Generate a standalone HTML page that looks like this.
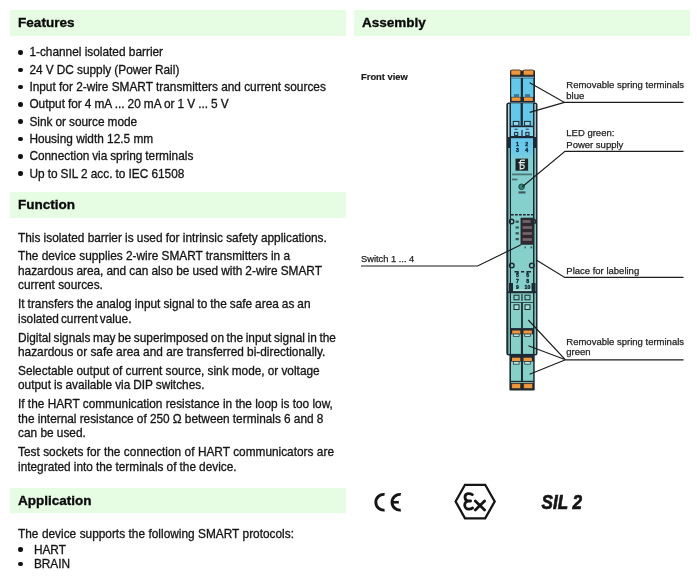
<!DOCTYPE html>
<html><head><meta charset="utf-8"><style>
html,body{margin:0;padding:0;background:#fff;width:697px;height:576px;overflow:hidden;position:relative}
div{position:absolute;white-space:nowrap;line-height:20px}
.band{background:#e6fde4}
.h{font-family:"Liberation Sans",sans-serif;font-weight:bold;font-size:13.5px;color:#0a0a0a;-webkit-text-stroke:0.35px #0a0a0a}
.b{font-family:"Liberation Sans",sans-serif;font-size:11.85px;color:#151515;-webkit-text-stroke:0.3px #151515}
.l{font-family:"Liberation Sans",sans-serif;font-size:9.5px;color:#1e1e1e;-webkit-text-stroke:0.25px #1e1e1e}
.fv{font-family:"Liberation Sans",sans-serif;font-weight:bold;font-size:9.4px;color:#1a1a1a;-webkit-text-stroke:0.2px #1a1a1a}
.dot{width:4.5px;height:4.5px;border-radius:50%;background:#111}
svg{position:absolute;left:0;top:0}
#wrap{position:absolute;left:0;top:0;width:697px;height:576px;will-change:transform}
</style></head><body><div id="wrap">
<div class="band" style="left:10px;top:10.4px;width:336px;height:26.1px"></div>
<div class="band" style="left:10px;top:192px;width:336px;height:25.5px"></div>
<div class="band" style="left:10px;top:488px;width:336px;height:25px"></div>
<div class="band" style="left:354.3px;top:10.4px;width:336.2px;height:26.1px"></div>
<div class="h" style="left:18.00px;top:12.52px;letter-spacing:0.05px">Features</div>
<div class="h" style="left:18.00px;top:194.62px;">Function</div>
<div class="h" style="left:18.00px;top:490.52px;">Application</div>
<div class="h" style="left:362.00px;top:12.52px;">Assembly</div>
<div class="dot" style="left:18px;top:50.20px"></div>
<div class="b" style="left:29.40px;top:42.49px;">1-channel isolated barrier</div>
<div class="dot" style="left:18px;top:67.50px"></div>
<div class="b" style="left:29.40px;top:59.79px;word-spacing:-0.160px">24 V DC supply (Power Rail)</div>
<div class="dot" style="left:18px;top:84.80px"></div>
<div class="b" style="left:29.40px;top:77.09px;">Input for 2-wire SMART transmitters and current sources</div>
<div class="dot" style="left:18px;top:102.10px"></div>
<div class="b" style="left:29.40px;top:94.39px;word-spacing:-0.242px">Output for 4 mA ... 20 mA or 1 V ... 5 V</div>
<div class="dot" style="left:18px;top:119.40px"></div>
<div class="b" style="left:29.40px;top:111.69px;word-spacing:-0.267px">Sink or source mode</div>
<div class="dot" style="left:18px;top:136.70px"></div>
<div class="b" style="left:29.40px;top:128.99px;">Housing width 12.5 mm</div>
<div class="dot" style="left:18px;top:154.00px"></div>
<div class="b" style="left:29.40px;top:146.29px;word-spacing:-0.433px">Connection via spring terminals</div>
<div class="dot" style="left:18px;top:171.30px"></div>
<div class="b" style="left:29.40px;top:163.59px;word-spacing:-0.186px">Up to SIL 2 acc. to IEC 61508</div>
<div class="b" style="left:18.00px;top:227.79px;word-spacing:-0.075px">This isolated barrier is used for intrinsic safety applications.</div>
<div class="b" style="left:18.00px;top:245.89px;">The device supplies 2-wire SMART transmitters in a</div>
<div class="b" style="left:18.00px;top:260.59px;word-spacing:-0.222px">hazardous area, and can also be used with 2-wire SMART</div>
<div class="b" style="left:18.00px;top:275.49px;">current sources.</div>
<div class="b" style="left:18.00px;top:293.89px;word-spacing:-0.282px">It transfers the analog input signal to the safe area as an</div>
<div class="b" style="left:18.00px;top:308.79px;word-spacing:-1.200px">isolated current value.</div>
<div class="b" style="left:18.00px;top:327.59px;word-spacing:-0.670px">Digital signals may be superimposed on the input signal in the</div>
<div class="b" style="left:18.00px;top:341.69px;">hazardous or safe area and are transferred bi-directionally.</div>
<div class="b" style="left:18.00px;top:360.59px;word-spacing:-0.150px">Selectable output of current source, sink mode, or voltage</div>
<div class="b" style="left:18.00px;top:375.09px;word-spacing:-0.320px">output is available via DIP switches.</div>
<div class="b" style="left:18.00px;top:393.69px;">If the HART communication resistance in the loop is too low,</div>
<div class="b" style="left:18.00px;top:408.69px;word-spacing:-0.110px">the internal resistance of 250 &Omega; between terminals 6 and 8</div>
<div class="b" style="left:18.00px;top:423.29px;">can be used.</div>
<div class="b" style="left:18.00px;top:441.99px;word-spacing:0.138px">Test sockets for the connection of HART communicators are</div>
<div class="b" style="left:18.00px;top:456.59px;word-spacing:-0.217px">integrated into the terminals of the device.</div>
<div class="b" style="left:18.00px;top:523.69px;word-spacing:0.200px">The device supports the following SMART protocols:</div>
<div class="dot" style="left:18px;top:547.40px"></div>
<div class="b" style="left:33.90px;top:539.69px;">HART</div>
<div class="dot" style="left:18px;top:561.80px"></div>
<div class="b" style="left:33.90px;top:554.09px;">BRAIN</div>
<div class="fv" style="left:361.00px;top:66.74px;">Front view</div>
<div class="l" style="left:566.30px;top:75.11px;">Removable spring terminals</div>
<div class="l" style="left:566.30px;top:85.81px;">blue</div>
<div class="l" style="left:566.30px;top:122.71px;">LED green:</div>
<div class="l" style="left:566.30px;top:135.11px;">Power supply</div>
<div class="l" style="left:361.00px;top:248.98px;font-size:9.3px">Switch 1 ... 4</div>
<div class="l" style="left:566.30px;top:260.91px;">Place for labeling</div>
<div class="l" style="left:566.30px;top:332.41px;">Removable spring terminals</div>
<div class="l" style="left:566.30px;top:342.01px;">green</div>
<svg width="697" height="576" viewBox="0 0 697 576">
<defs>
<linearGradient id="face" x1="0" y1="137" x2="0" y2="292" gradientUnits="userSpaceOnUse">
<stop offset="0" stop-color="#66c8ec"/><stop offset="0.1" stop-color="#6cc9e8"/><stop offset="0.15" stop-color="#84cfd0"/><stop offset="1" stop-color="#87d0c8"/>
</linearGradient>
</defs>
<!-- top blue terminal -->
<rect x="510" y="70.5" width="25" height="32" fill="#1d2a33"/>
<rect x="510.8" y="70" width="10" height="5.2" rx="1.2" fill="#f0963c" stroke="#2a2420" stroke-width="0.8"/>
<rect x="523.2" y="70" width="10.6" height="5.2" rx="1.2" fill="#f0963c" stroke="#2a2420" stroke-width="0.8"/>
<rect x="511" y="76.8" width="23" height="0.9" fill="#9ad8f0"/>
<rect x="511.2" y="78.3" width="9.6" height="18.6" fill="#64c8eb"/>
<rect x="523" y="78.3" width="10.3" height="18.6" fill="#64c8eb"/>
<rect x="514" y="94.2" width="5" height="3" fill="#3c7390"/>
<rect x="525" y="94.2" width="5" height="3" fill="#3c7390"/>
<rect x="511.6" y="97.4" width="8.8" height="3.5" fill="#f0963c"/>
<rect x="524" y="97.4" width="8.8" height="3.5" fill="#f0963c"/>
<!-- housing outer -->
<rect x="506.3" y="102.5" width="31.2" height="253" rx="2.5" fill="#1d2a33"/>
<rect x="508" y="104" width="1.5" height="33" fill="#bccfd2"/>
<rect x="534.5" y="104" width="1.4" height="33" fill="#bccfd2"/>
<rect x="508.4" y="148" width="1.4" height="206" fill="#8ed3c8"/>
<rect x="534.5" y="148" width="1.4" height="206" fill="#8ed3c8"/>
<!-- upper blue terminal inside housing -->
<rect x="511" y="103.3" width="9.6" height="22.4" fill="#64c8eb"/>
<rect x="522.9" y="103.3" width="10.1" height="22.4" fill="#64c8eb"/>
<rect x="513.3" y="121.4" width="5.6" height="4.4" fill="#8fd6ec" stroke="#1d2a33" stroke-width="1"/>
<rect x="524.6" y="121.4" width="5.6" height="4.4" fill="#8fd6ec" stroke="#1d2a33" stroke-width="1"/>
<rect x="511" y="127.2" width="22" height="8.8" fill="#86d4f0"/>
<path d="M514.6 129.2h3M525.8 129.2h3" stroke="#1d3a4a" stroke-width="1"/>
<rect x="514.6" y="132.4" width="3.2" height="3" fill="none" stroke="#1d2a33" stroke-width="1"/>
<rect x="525.8" y="132.4" width="3.2" height="3" fill="none" stroke="#1d2a33" stroke-width="1"/>
<path d="M522 130v6" stroke="#1d2a33" stroke-width="1.2"/>
<!-- front face -->
<rect x="511" y="138.2" width="22" height="153.2" fill="url(#face)"/>
<g font-family="Liberation Sans" font-weight="bold" font-size="5.2" fill="#13283a" stroke="#13283a" stroke-width="0.35">
<text x="515.9" y="146.3">1</text><text x="525.2" y="146.3">2</text>
<text x="515.9" y="152">3</text><text x="525.2" y="152">4</text>
</g>
<rect x="515.5" y="158.6" width="12.6" height="12.1" fill="#1a2626"/>
<g fill="none" stroke="#e6eeec" stroke-width="1.15"><path d="M520.2 169.7V161.7A1.6 1.6 0 0 1 521.8 160.1H525M518.5 162.6H524.8"/><path d="M520.2 164.9H522.4A1.85 1.85 0 0 1 522.4 168.6H520.2"/></g>
<rect x="512" y="173.5" width="20" height="1.8" fill="#2a3a3c" opacity="0.6"/>
<rect x="512" y="178.6" width="5.5" height="1.7" fill="#3a4a4c" opacity="0.75"/>
<circle cx="521.6" cy="186.8" r="2.8" fill="#2e8a78" stroke="#1d3a34" stroke-width="0.9"/>
<rect x="518.5" y="191.4" width="7" height="2.1" fill="#2a3a3c" opacity="0.8"/>
<path d="M511 214.8h22" stroke="#1d2a33" stroke-width="1.4" stroke-dasharray="2.8 1.2"/>
<!-- DIP switch -->
<rect x="520.9" y="218" width="12.5" height="26.4" fill="#33282e" stroke="#1d2a33" stroke-width="0.6"/>
<g fill="#75676d"><rect x="522.6" y="220.2" width="9.3" height="2.6"/><rect x="522.6" y="226.2" width="9.3" height="2.6"/><rect x="522.6" y="232.2" width="9.3" height="2.6"/><rect x="522.6" y="238.2" width="9.3" height="2.6"/></g>
<g fill="#2a3a3c" opacity="0.85"><rect x="515.6" y="220.6" width="3.2" height="2.2"/><rect x="515.6" y="226.4" width="3.2" height="2.2"/><rect x="515.6" y="232.2" width="3.2" height="2.2"/><rect x="515.6" y="238" width="3.2" height="2.2"/>
<rect x="524.6" y="246.4" width="1.2" height="2"/><rect x="530.6" y="246.4" width="1.6" height="2"/></g>
<g fill="none" stroke="#1d2a33" stroke-width="1.4">
<circle cx="511.6" cy="221.5" r="2.2"/><circle cx="533.3" cy="221.5" r="2.2"/>
<circle cx="511.8" cy="265.5" r="2.3"/><circle cx="531.8" cy="265.5" r="2.3"/>
<path d="M514.5 271.8h3.5v2M521 271.8h3.2M527.2 273.8v-2h3.8"/>
</g>
<g font-family="Liberation Sans" font-weight="bold" font-size="5.2" fill="#13283a" stroke="#13283a" stroke-width="0.35">
<text x="516" y="277">5</text><text x="526.2" y="277">6</text>
<text x="516" y="283">7</text><text x="526.2" y="283">8</text>
<text x="516" y="289">9</text><text x="524.6" y="289">10</text>
</g>
<rect x="509" y="283" width="4" height="10" fill="#1d2a33"/>
<rect x="531.5" y="283" width="4" height="10" fill="#1d2a33"/>
<rect x="513" y="289.6" width="18.5" height="1.1" fill="#cfe9e4"/>
<rect x="508" y="291.3" width="28" height="1.8" fill="#1d2a33"/>
<!-- lower terminal area inside housing -->
<rect x="511" y="293.3" width="22" height="35" fill="#87d0c8"/>
<rect x="514" y="295.2" width="5" height="4.6" fill="none" stroke="#1d2a33" stroke-width="1"/>
<rect x="525" y="295.2" width="5" height="4.6" fill="none" stroke="#1d2a33" stroke-width="1"/>
<path d="M522 294v7" stroke="#1d2a33" stroke-width="1.2"/>
<path d="M511 302.5h22" stroke="#1d2a33" stroke-width="0.8"/>
<path d="M522 302.5v26" stroke="#1d2a33" stroke-width="1.8"/>
<rect x="514" y="304.8" width="5" height="4.7" fill="#a8e0d8" stroke="#1d2a33" stroke-width="1"/>
<rect x="525" y="304.8" width="5" height="4.7" fill="#a8e0d8" stroke="#1d2a33" stroke-width="1"/>
<rect x="510.5" y="328.3" width="23.5" height="2" fill="#1d2a33"/>
<rect x="512.2" y="330.5" width="8.1" height="3.3" fill="#f0963c"/>
<rect x="523.5" y="330.5" width="8.4" height="3.3" fill="#f0963c"/>
<rect x="511" y="334.3" width="9.9" height="19.6" fill="#87d0c8"/>
<rect x="523" y="334.3" width="10" height="19.6" fill="#87d0c8"/>
<rect x="513.5" y="334" width="5.6" height="2.6" fill="#b8e4de" stroke="#1d2a33" stroke-width="0.7"/>
<rect x="524.7" y="334" width="5.6" height="2.6" fill="#b8e4de" stroke="#1d2a33" stroke-width="0.7"/>
<!-- bottom green terminal -->
<rect x="509.4" y="354" width="25.3" height="36.5" rx="1" fill="#1d2a33"/>
<rect x="512" y="357.7" width="8.3" height="3.3" fill="#f0963c"/>
<rect x="523.5" y="357.7" width="8.4" height="3.3" fill="#f0963c"/>
<rect x="511" y="361.6" width="10" height="19.2" fill="#87d0c8"/>
<rect x="523" y="361.6" width="10.2" height="19.2" fill="#87d0c8"/>
<rect x="513.5" y="361.6" width="5.6" height="2.6" fill="#b8e4de" stroke="#1d2a33" stroke-width="0.7"/>
<rect x="524.7" y="361.6" width="5.6" height="2.6" fill="#b8e4de" stroke="#1d2a33" stroke-width="0.7"/>
<rect x="511" y="382.2" width="22.3" height="0.8" fill="#8fcfc8"/>
<rect x="511.6" y="383.6" width="9" height="5" rx="1" fill="#f0963c" stroke="#2a2420" stroke-width="0.6"/>
<rect x="523.6" y="383.6" width="9" height="5" rx="1" fill="#f0963c" stroke="#2a2420" stroke-width="0.6"/>
<!-- pointer lines -->
<g fill="none" stroke="#1c1c1c" stroke-width="1.15">
<path d="M529.7 82.8L564.5 102.4H683.5M529.7 112.4L564.5 102.4"/>
<path d="M522.3 186.8L565 151.4H683.5"/>
<path d="M361 266H477.6L521 244.8"/>
<path d="M536.7 260.2L564.8 277.4H683.5"/>
<path d="M528.3 320L565.5 359.8H683.5M528.4 345.8L565.5 359.8M529.6 374.3L565.5 359.8"/>
</g>
</svg>

<svg width="697" height="576" viewBox="0 0 697 576">
<g fill="none" stroke="#151515" stroke-width="2.9" stroke-linecap="butt">
<path d="M384.6 494.4A7.9 7.9 0 1 0 384.6 510.1"/>
<path d="M400.8 494.4A7.9 7.9 0 1 0 400.8 510.1"/>
<path d="M392 502.25H398.8" stroke-width="2.6"/>
</g>
<g fill="none" stroke="#151515" stroke-width="2.3" stroke-linejoin="miter">
<path d="M455.6 501.5L465 484.8H485.2L494.7 501.5L485.2 518.3H465Z"/>
</g>
<g fill="none" stroke="#151515" stroke-width="2.8" stroke-linecap="round" stroke-linejoin="round">
<path d="M472.3 494.6C471 493.7 469.5 493.4 467.9 493.6C465.8 493.9 464.9 495.8 465 497.6C465.2 499.6 466.7 501 468.6 501H470.6M468.6 501C466.3 501 464.7 502.8 464.7 505C464.7 507.4 466.5 509.1 468.7 509.1C470.2 509.1 471.5 508.7 472.6 508"/>
<path d="M475.3 500.9L484.6 509.9M484.6 500.9L475.3 509.9"/>
</g>
<text x="541.5" y="509.1" font-family="Liberation Sans" font-weight="bold" font-style="italic" font-size="19.5" fill="#151515" stroke="#151515" stroke-width="0.7" textLength="40.5" lengthAdjust="spacingAndGlyphs">SIL 2</text>
</svg>

</div></body></html>
